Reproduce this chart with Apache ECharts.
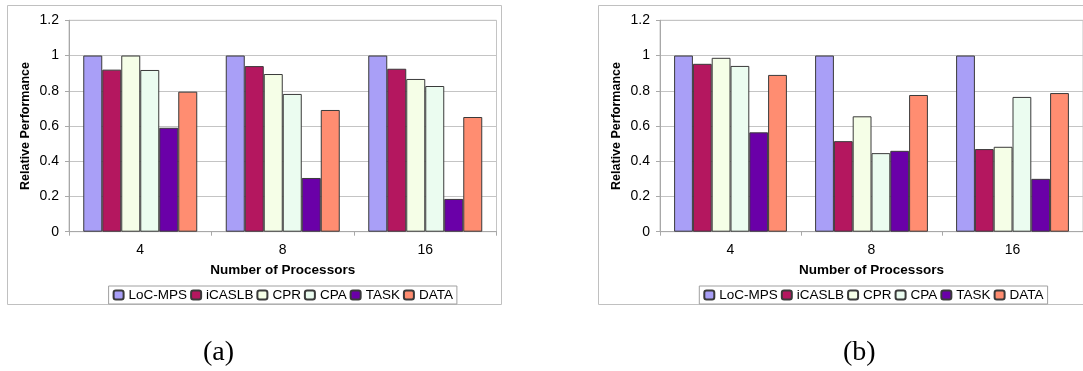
<!DOCTYPE html>
<html>
<head>
<meta charset="utf-8">
<script src="https://cdn.jsdelivr.net/npm/echarts@6/dist/echarts.min.js"></script>
<style>
  html, body { margin: 0; padding: 0; background: #fff; }
  #chart { width: 1083px; height: 371px; }
</style>
</head>
<body>
<div id="chart"></div>
<script>
// ---- data ----
const categories = ['4', '8', '16'];
const seriesNames = ['LoC-MPS', 'iCASLB', 'CPR', 'CPA', 'TASK', 'DATA'];
const seriesColors = ['#A99FF7', '#B4175F', '#F5FEE7', '#EBFCF0', '#6A00A8', '#FF8D71'];

// panel (a)
const a_LoC    = [1.0, 1.0, 1.0];
const a_iCASLB = [0.92, 0.94, 0.925];
const a_CPR    = [1.0, 0.895, 0.867];
const a_CPA    = [0.918, 0.782, 0.827];
const a_TASK   = [0.59, 0.305, 0.186];
const a_DATA   = [0.795, 0.691, 0.651];

// panel (b)
const b_LoC    = [1.0, 1.0, 1.0];
const b_iCASLB = [0.953, 0.514, 0.469];
const b_CPR    = [0.987, 0.655, 0.482];
const b_CPA    = [0.941, 0.446, 0.765];
const b_TASK   = [0.564, 0.459, 0.300];
const b_DATA   = [0.890, 0.776, 0.787];

const yMin = 0, yMax = 1.2, yStep = 0.2;
const xTitle = 'Number of Processors';
const yTitle = 'Relative Performance';
const captions = ['(a)', '(b)'];

// ---- chart ----
const panelA = [a_LoC, a_iCASLB, a_CPR, a_CPA, a_TASK, a_DATA];
const panelB = [b_LoC, b_iCASLB, b_CPR, b_CPA, b_TASK, b_DATA];

const FONT = '"Liberation Sans", Arial, sans-serif';
const axisGray = '#a8a8a8';

function makeX(gridIndex) {
  return {
    type: 'category', gridIndex, data: categories,
    axisLine: { lineStyle: { color: axisGray, width: 1 } },
    axisTick: { show: true, length: 4, lineStyle: { color: axisGray } },
    axisLabel: { color: '#000', fontFamily: FONT, fontSize: 14, margin: 11 },
    name: xTitle, nameLocation: 'middle', nameGap: 32,
    nameTextStyle: { color: '#000', fontFamily: FONT, fontSize: 13.5, fontWeight: 'bold' }
  };
}
function makeY(gridIndex) {
  return {
    type: 'value', gridIndex, min: yMin, max: yMax, interval: yStep,
    axisLine: { show: true, lineStyle: { color: axisGray, width: 1 } },
    axisTick: { show: true, length: 4, lineStyle: { color: axisGray } },
    splitLine: { lineStyle: { color: '#c4c4c4', width: 1 } },
    axisLabel: { color: '#000', fontFamily: FONT, fontSize: 14, margin: 10,
                 formatter: v => String(Math.round(v * 10) / 10) },
    name: yTitle, nameLocation: 'middle', nameGap: 37, nameRotate: 90,
    nameTextStyle: { color: '#000', fontFamily: FONT, fontSize: 12.5, fontWeight: 'bold' }
  };
}
function makeLegend(left) {
  return {
    data: seriesNames, left, top: 286, orient: 'horizontal',
    itemWidth: 10, itemHeight: 9, itemGap: 3,
    padding: [2, 4], borderColor: '#a0a0a0', borderWidth: 1,
    textStyle: { color: '#000', fontFamily: FONT, fontSize: 13.5, lineHeight: 13 },
    selectedMode: false
  };
}

const series = [];
[panelA, panelB].forEach((panel, pi) => {
  panel.forEach((vals, si) => {
    series.push({
      type: 'bar', name: seriesNames[si], data: vals,
      xAxisIndex: pi, yAxisIndex: pi,
      barGap: '0%', barCategoryGap: '20%',
      itemStyle: { color: seriesColors[si], borderColor: '#3a3a3a', borderWidth: 1 },
      emphasis: { disabled: true },
      animation: false
    });
  });
});

const chart = echarts.init(document.getElementById('chart'), null, { renderer: 'canvas' });
chart.setOption({
  animation: false,
  backgroundColor: '#ffffff',
  grid: [
    { left: 69, top: 20.3, width: 427.5, height: 211.4, show: true, borderColor: '#c4c4c4', borderWidth: 1 },
    { left: 660, top: 20.3, width: 427, height: 211.4, show: true, borderColor: '#c4c4c4', borderWidth: 1 }
  ],
  xAxis: [makeX(0), makeX(1)],
  yAxis: [makeY(0), makeY(1)],
  legend: [makeLegend(108.6), makeLegend(699.3)],
  series,
  graphic: [
    { type: 'rect', shape: { x: 7.5, y: 5.5, width: 494, height: 299 },
      style: { fill: 'none', stroke: '#c0c0c0', lineWidth: 1 }, z: -10 },
    { type: 'rect', shape: { x: 598.5, y: 5.5, width: 494, height: 299 },
      style: { fill: 'none', stroke: '#c0c0c0', lineWidth: 1 }, z: -10 },
    { type: 'text', left: 203, top: 339,
      style: { text: captions[0], fill: '#000', font: '28px "Liberation Serif", "Times New Roman", serif' } },
    { type: 'text', left: 843, top: 339,
      style: { text: captions[1], fill: '#000', font: '28px "Liberation Serif", "Times New Roman", serif' } }
  ]
});
</script>
</body>
</html>
